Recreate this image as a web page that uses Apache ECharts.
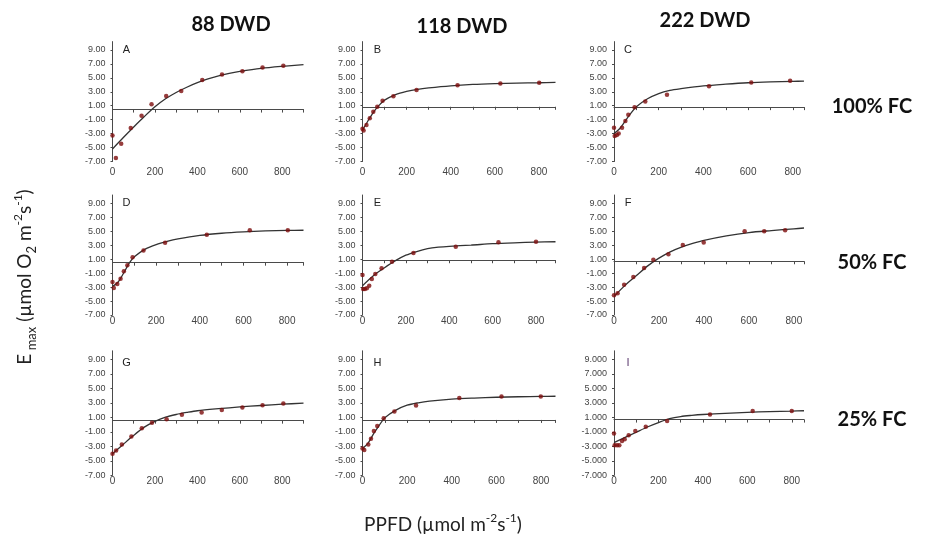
<!DOCTYPE html>
<html><head><meta charset="utf-8">
<script src="https://cdn.jsdelivr.net/npm/echarts@6/dist/echarts.min.js"></script>
<style>html,body{margin:0;padding:0;background:#fff}#c{width:931px;height:544px}</style>
</head><body><div id="c"></div>
<script>
// ---- data (PPFD, Emax) ----
const colTitles = ['88 DWD', '118 DWD', '222 DWD'];
const rowTitles = ['100% FC', '50% FC', '25% FC'];
const panelLetters = ['A','B','C','D','E','F','G','H','I'];
const xTickLabels = [0, 200, 400, 600, 800];

const dotsA = [[0,-3.27],[16,-6.5],[41,-4.45],[86,-2.2],[137,-0.44],[184,1.23],[253,2.4],[324,3.1],[423,4.7],[516,5.47],[612,5.96],[707,6.5],[805,6.75]];
const fitA  = [[0,-5.2],[50,-3.6],[100,-2.05],[150,-0.55],[200,0.85],[250,2.0],[300,2.9],[350,3.65],[400,4.3],[450,4.85],[500,5.3],[550,5.65],[600,5.92],[700,6.35],[800,6.65],[900,6.9]];
const dotsB = [[0,-2.3],[5,-2.55],[18,-1.75],[33,-0.8],[49,0.15],[67,0.85],[91,1.7],[140,2.35],[245,3.25],[431,3.95],[625,4.2],[801,4.3]];
const fitB  = [[0,-2.5],[25,-1.15],[50,0.1],[75,1.05],[100,1.8],[150,2.6],[200,3.05],[250,3.35],[300,3.55],[400,3.85],[500,4.05],[600,4.17],[700,4.25],[800,4.3],[875,4.35]];
const dotsC = [[0,-2.16],[3,-3.35],[13,-3.2],[21,-2.97],[36,-2.16],[51,-1.2],[64,-0.31],[92,0.79],[140,1.6],[237,2.59],[425,3.78],[614,4.35],[788,4.58]];
const fitC  = [[0,-3.0],[25,-2.3],[50,-1.2],[75,-0.1],[100,0.85],[150,2.0],[200,2.75],[250,3.2],[300,3.45],[400,3.85],[500,4.1],[600,4.3],[700,4.42],[800,4.5],[850,4.52]];
const dotsD = [[0,-2.28],[6,-3.14],[22,-2.57],[37,-1.8],[52,-0.73],[68,0.13],[92,1.29],[142,2.25],[241,3.36],[432,4.52],[629,5.14],[803,5.14]];
const fitD  = [[0,-2.9],[25,-2.3],[50,-1.05],[75,0.35],[100,1.35],[150,2.45],[200,3.1],[250,3.55],[300,3.9],[400,4.4],[500,4.72],[600,4.92],[700,5.05],[800,5.12],[875,5.15]];
const dotsE = [[0,-1.27],[3,-3.27],[11,-3.27],[20,-3.18],[31,-2.8],[43,-1.84],[59,-1.12],[88,-0.31],[136,0.64],[235,1.88],[430,2.79],[627,3.41],[800,3.5]];
const fitE  = [[0,-2.8],[50,-1.37],[100,-0.26],[150,0.75],[200,1.57],[250,2.1],[300,2.5],[350,2.72],[400,2.85],[500,3.02],[600,3.22],[700,3.35],[800,3.45],[890,3.5]];
const dotsF = [[0,-4.18],[16,-3.89],[45,-2.67],[86,-1.54],[134,-0.27],[175,0.91],[242,1.71],[306,3.02],[399,3.4],[581,5.0],[668,5.0],[761,5.14]];
const fitF  = [[0,-4.36],[50,-2.72],[100,-1.35],[150,0.04],[200,1.15],[250,2.05],[300,2.72],[350,3.25],[400,3.7],[500,4.35],[600,4.82],[700,5.1],[800,5.35],[845,5.47]];
const dotsG = [[0,-4.03],[17,-3.57],[44,-2.75],[89,-1.65],[138,-0.51],[186,0.27],[255,0.73],[327,1.37],[420,1.69],[515,2.01],[612,2.37],[707,2.69],[805,2.92]];
const fitG  = [[0,-4.03],[50,-2.74],[100,-1.48],[150,-0.35],[200,0.45],[250,1.03],[300,1.4],[350,1.68],[400,1.92],[500,2.2],[600,2.44],[700,2.64],[800,2.82],[900,2.97]];
const dotsH = [[0,-3.29],[8,-3.52],[26,-2.73],[38,-1.95],[51,-0.88],[66,-0.18],[95,0.88],[143,1.81],[240,2.65],[434,3.67],[623,3.9],[799,3.9]];
const fitH  = [[0,-3.3],[25,-2.55],[50,-1.25],[75,-0.1],[100,0.95],[150,2.0],[200,2.68],[250,3.02],[300,3.25],[400,3.52],[500,3.67],[600,3.78],[700,3.85],[800,3.9],[865,3.92]];
const dotsI = [[0,-1.21],[3,-2.86],[14,-2.86],[24,-2.86],[36,-2.26],[48,-2.03],[66,-1.48],[96,-0.89],[143,-0.29],[239,0.49],[432,1.41],[624,1.87],[800,1.87]];
const fitI  = [[0,-2.49],[50,-1.77],[100,-1.05],[150,-0.33],[200,0.28],[250,0.82],[300,1.12],[350,1.28],[400,1.4],[500,1.56],[600,1.7],[700,1.8],[800,1.87],[855,1.92]];

const allDots = [dotsA, dotsB, dotsC, dotsD, dotsE, dotsF, dotsG, dotsH, dotsI];
const allFits = [fitA, fitB, fitC, fitD, fitE, fitF, fitG, fitH, fitI];
const xMaxes  = [900, 875, 850, 875, 890, 845, 900, 865, 855];
const zeroLine = [0.45, 0.85, 0.8, 0.5, 0.85, 0.7, 0.55, 0.65, 0.7];
const yDecimals = [2, 2, 2, 2, 2, 2, 2, 2, 3];

// ---- layout ----
const colLeft = [112.5, 362.5, 614];
const colWidth = [191, 193, 190];
const rowTop = [41.6, 195, 350.8];
const rowHeight = [119.9, 120, 124.5];
const xLabelMargin = [6, 1, 1];
const letterDx = [14, 15, 14];
const letterDy = [8.4, 8, 12.5];
const Y_MIN = -7, Y_MAX = 10.2;

const grids = [], xAxes = [], yAxes = [], yHidden = [], series = [], graphics = [];
const axisColor = '#4a4a4a';
const labelColor = '#444';
for (let i = 0; i < 9; i++) {
  const c = i % 3, r = Math.floor(i / 3);
  grids.push({ left: colLeft[c], top: rowTop[r], width: colWidth[c], height: rowHeight[r], outerBoundsMode: 'none', containLabel: false });
  xAxes.push({ type: 'value', gridIndex: i, position: 'bottom', min: 0, max: xMaxes[i], interval: 100,
    axisLine: { show: true, onZero: true, onZeroAxisIndex: 9 + i, lineStyle: { color: axisColor, width: 1 } },
    axisTick: { show: true, length: 3, lineStyle: { color: axisColor } },
    axisLabel: { show: false }, splitLine: { show: false } });
  xAxes.push({ type: 'value', gridIndex: i, position: 'bottom', min: 0, max: xMaxes[i], interval: 200,
    axisLine: { show: false, onZero: false }, axisTick: { show: false }, splitLine: { show: false },
    axisLabel: { show: true, margin: xLabelMargin[r], fontSize: 10, color: labelColor, fontFamily: 'Liberation Sans',
      showMaxLabel: false, formatter: v => (xTickLabels.indexOf(v) >= 0 ? String(v) : '') } });
  yAxes.push({ type: 'value', gridIndex: i, position: 'left', min: Y_MIN, max: Y_MAX, interval: 2,
    axisLine: { show: true, onZero: false, lineStyle: { color: axisColor, width: 1 } },
    axisTick: { show: true, length: 2, lineStyle: { color: axisColor } },
    splitLine: { show: false },
    axisLabel: { show: true, margin: 7, fontSize: 9, color: labelColor, fontFamily: 'Liberation Sans', showMaxLabel: false,
      formatter: (v => val => val.toFixed(v))(yDecimals[i]) } });
  yHidden.push({ type: 'value', gridIndex: i, show: false, position: 'right', min: Y_MIN - zeroLine[i], max: Y_MAX - zeroLine[i] });
  series.push({ type: 'line', xAxisIndex: 2 * i + 1, yAxisIndex: i, data: allFits[i], smooth: 0.3,
    showSymbol: false, symbol: 'none', silent: true, lineStyle: { color: '#333', width: 1.3 }, z: 2 });
  series.push({ type: 'scatter', xAxisIndex: 2 * i + 1, yAxisIndex: i, data: allDots[i], clip: false,
    symbol: 'circle', symbolSize: 4.5, itemStyle: { color: '#7d0c0c' }, z: 3 });
  graphics.push({ type: 'text', x: colLeft[c] + letterDx[c], y: rowTop[r] + letterDy[r],
    style: { text: panelLetters[i], fontSize: 11, fontFamily: 'Liberation Sans', fill: i === 8 ? '#5b3a6e' : '#222', align: 'center', verticalAlign: 'middle' } });
}

const colTitleX = [231, 462, 705];
const colTitleY = [25, 27, 21];
colTitles.forEach((t, k) => graphics.push({ type: 'text', x: colTitleX[k], y: colTitleY[k],
  style: { text: t, fontSize: 20, fontWeight: 'bold', fontFamily: 'Lato', fill: '#111', align: 'center', verticalAlign: 'middle' } }));
const rowTitleY = [107, 263, 420];
rowTitles.forEach((t, k) => graphics.push({ type: 'text', x: 872, y: rowTitleY[k],
  style: { text: t, fontSize: 20, fontWeight: 'bold', fontFamily: 'Lato', fill: '#111', align: 'center', verticalAlign: 'middle' } }));

const richBase = {
  n: { fontSize: 19, fontFamily: 'Lato', fill: '#222', color: '#222', lineHeight: 26 },
  sub: { fontSize: 13, fontFamily: 'Lato', fill: '#222', color: '#222', lineHeight: 13, verticalAlign: 'bottom' },
  sup: { fontSize: 12, fontFamily: 'Lato', fill: '#222', color: '#222', lineHeight: 12, verticalAlign: 'top' }
};
graphics.push({ type: 'text', x: 25, y: 277, rotation: Math.PI / 2,
  style: { text: '{n|E}{sub| max}{n| (µmol O}{sub|2}{n| m}{sup|-2}{n|s}{sup|-1}{n|)}', rich: richBase,
    align: 'center', verticalAlign: 'middle', fill: '#222' } });
graphics.push({ type: 'text', x: 443, y: 525,
  style: { text: '{n|PPFD (µmol m}{sup|-2}{n|s}{sup|-1}{n|)}', rich: richBase,
    align: 'center', verticalAlign: 'middle', fill: '#222' } });

const chart = echarts.init(document.getElementById('c'), null, { renderer: 'canvas' });
chart.setOption({
  backgroundColor: '#fff',
  animation: false,
  grid: grids,
  xAxis: xAxes,
  yAxis: yAxes.concat(yHidden),
  series: series,
  graphic: graphics
});
</script></body></html>
